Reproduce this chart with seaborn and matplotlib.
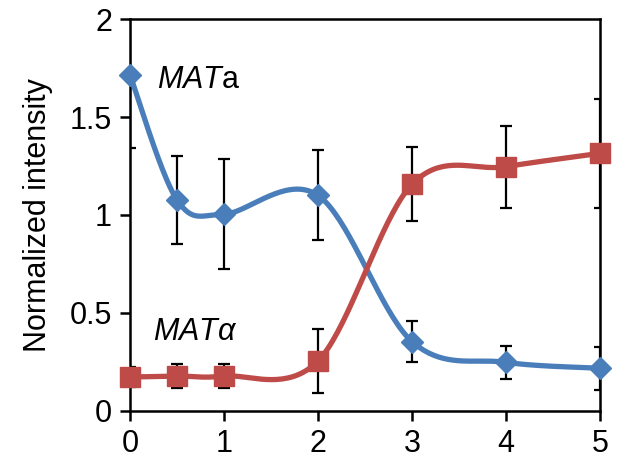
import numpy as np
import pandas as pd
import matplotlib
matplotlib.use("Agg")
import matplotlib.pyplot as plt
import seaborn as sns

# === Data ===
time = [0, 0.5, 1, 2, 3, 4, 5]
mata = [1.715, 1.077, 1.004, 1.100, 0.353, 0.247, 0.217]
mata_err = [0.375, 0.225, 0.280, 0.230, 0.105, 0.083, 0.110]
matalpha = [0.172, 0.177, 0.177, 0.254, 1.157, 1.247, 1.315]
matalpha_err = [0.050, 0.062, 0.062, 0.165, 0.190, 0.210, 0.280]

BLUE = "#4A7EBB"
RED = "#BE4B48"


def excel_smooth(x, y, n=40):
    # Excel-style smoothed line: cubic Bezier with control points at 1/6 of neighbour slope
    x = np.asarray(x, float)
    y = np.asarray(y, float)
    pts = np.column_stack([x, y])
    p = np.vstack([pts[0], pts, pts[-1]])
    out = []
    t = np.linspace(0, 1, n)[:, None]
    for i in range(1, len(p) - 2):
        p0, p1, p2, p3 = p[i - 1], p[i], p[i + 1], p[i + 2]
        c1 = p1 + (p2 - p0) / 6
        c2 = p2 - (p3 - p1) / 6
        seg = ((1 - t) ** 3) * p1 + 3 * ((1 - t) ** 2) * t * c1 + 3 * (1 - t) * t ** 2 * c2 + t ** 3 * p2
        out.append(seg if i == 1 else seg[1:])
    out = np.vstack(out)
    return out[:, 0], out[:, 1]


sns.set_style("ticks")
plt.rcParams['font.family'] = ['Liberation Sans', 'DejaVu Sans']
plt.rcParams['mathtext.fontset'] = 'custom'
plt.rcParams['mathtext.rm'] = 'Liberation Sans'
plt.rcParams['mathtext.it'] = 'Liberation Sans:italic'
plt.rcParams['text.color'] = 'black'
plt.rcParams['axes.labelcolor'] = 'black'

fig = plt.figure(figsize=(6.29, 4.67), dpi=100)
ax = fig.add_axes([0.2067, 0.1206, 0.7473, 0.8381])

for vals, errs, color, marker, ms in [
    (mata, mata_err, BLUE, "D", 11),
    (matalpha, matalpha_err, RED, "s", 14),
]:
    sx, sy = excel_smooth(time, vals)
    curve = pd.DataFrame({"t": sx, "v": sy})
    sns.lineplot(data=curve, x="t", y="v", color=color, lw=3.8, sort=False,
                 ax=ax, zorder=3, clip_on=False)
    ax.errorbar(time, vals, yerr=errs, fmt="none", ecolor="black",
                elinewidth=1.6, capsize=4.5, capthick=1.6, zorder=2)
    ax.plot(time, vals, linestyle="none", marker=marker, ms=ms, color=color,
            zorder=4, clip_on=False)

ax.set_xlim(0, 5)
ax.set_ylim(0, 2)
ax.set_xticks([0, 1, 2, 3, 4, 5])
ax.set_yticks([0, 0.5, 1, 1.5, 2])
ax.set_yticklabels(["0", "0.5", "1", "1.5", "2"])
ax.set_xlabel("")
ax.set_ylabel("Normalized intensity", fontsize=22, labelpad=12, color="black")
ax.tick_params(axis="both", direction="out", length=7, width=1.8,
               labelsize=22, color="black", labelcolor="black", pad=6)
for side in ["left", "right", "top", "bottom"]:
    ax.spines[side].set_visible(True)
    ax.spines[side].set_linewidth(1.8)
    ax.spines[side].set_color("black")

ax.text(0.29, 1.69, r"$\mathit{MAT}$a", fontsize=22, va="center", ha="left", color="black")
ax.text(0.245, 0.40, r"$\mathit{MAT\alpha}$", fontsize=22, va="center", ha="left", color="black")

fig.savefig("out.png", dpi=100)
plt.close(fig)
